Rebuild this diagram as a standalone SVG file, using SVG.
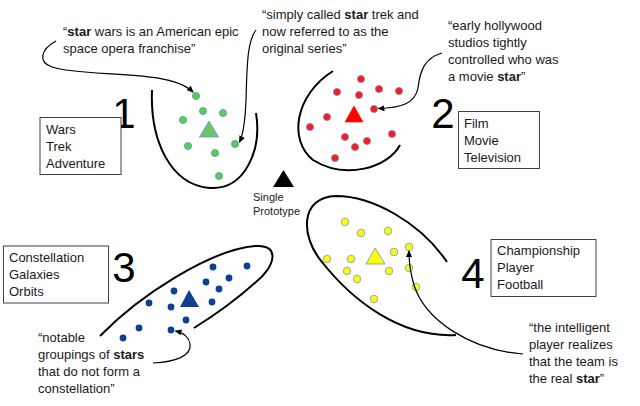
<svg xmlns="http://www.w3.org/2000/svg" width="640" height="406" viewBox="0 0 640 406">
<defs>
<style>
text{font-family:"Liberation Sans",Arial,sans-serif;fill:#1a1a1a}
.t{font-size:13px}
.num{font-size:42px;text-anchor:middle;fill:#000}
.sm{font-size:11px}
.box{fill:#fff;stroke:#404040;stroke-width:1}
.curve{fill:none;stroke:#000;stroke-width:2}
.conn{fill:none;stroke:#000;stroke-width:1.2}
.g{fill:#52d052;stroke:#6f8fc4;stroke-width:0.8}
.r{fill:#ff1a1a;stroke:#6f8fc4;stroke-width:0.8}
.b{fill:#0e3f97}
.y{fill:#ffff00;stroke:#7f9fcf;stroke-width:0.9}
b,.bold{font-weight:bold}
</style>
<marker id="ah" markerWidth="7" markerHeight="6" refX="6" refY="3" orient="auto" markerUnits="userSpaceOnUse">
<path d="M0,0 L7,3 L0,6 z" fill="#000"/>
</marker>
</defs>
<rect width="640" height="406" fill="#fff"/>

<g id="cluster1">
<path class="curve" d="M152,90 C150,140 170,185 210,188 C245,190 262,150 256,113"/>
<circle class="g" cx="196" cy="96" r="3.6"/>
<circle class="g" cx="203" cy="111" r="3.6"/>
<circle class="g" cx="223" cy="113" r="3.6"/>
<circle class="g" cx="183" cy="120" r="3.6"/>
<circle class="g" cx="188" cy="146" r="3.6"/>
<circle class="g" cx="215" cy="153" r="3.6"/>
<circle class="g" cx="235" cy="144" r="3.6"/>
<circle class="g" cx="219" cy="176" r="3.6"/>
<polygon points="209,121 199.5,137 218.5,137" fill="#6dc46d" stroke="#6f8fc4" stroke-width="0.8"/>
</g>

<g id="cluster2">
<path class="curve" d="M333,71 C295,95 288,140 313,160 C345,180 388,168 400,145"/>
<circle class="r" cx="361" cy="79" r="3.6"/>
<circle class="r" cx="337" cy="92" r="3.6"/>
<circle class="r" cx="379" cy="89" r="3.6"/>
<circle class="r" cx="399" cy="91" r="3.6"/>
<circle class="r" cx="359" cy="95" r="3.6"/>
<circle class="r" cx="374" cy="109" r="3.6"/>
<circle class="r" cx="327" cy="117" r="3.6"/>
<circle class="r" cx="310" cy="127" r="3.6"/>
<circle class="r" cx="345" cy="137" r="3.6"/>
<circle class="r" cx="367" cy="141" r="3.6"/>
<circle class="r" cx="392" cy="134" r="3.6"/>
<circle class="r" cx="355" cy="147" r="3.6"/>
<circle class="r" cx="335" cy="158" r="3.6"/>
<polygon points="354,106 345,122 363,122" fill="#ff0000" stroke="#ff0000" stroke-width="0.6"/>
</g>

<g id="cluster3">
<path class="curve" d="M100,336 C140,295 210,250 255,246 C282,244 274,268 256,282 C236,300 215,315 194,328"/>
<circle class="b" cx="247" cy="266" r="3.4"/>
<circle class="b" cx="213" cy="267" r="3.4"/>
<circle class="b" cx="229" cy="278" r="3.4"/>
<circle class="b" cx="206" cy="282" r="3.4"/>
<circle class="b" cx="219" cy="289" r="3.4"/>
<circle class="b" cx="174" cy="291" r="3.4"/>
<circle class="b" cx="212" cy="302" r="3.4"/>
<circle class="b" cx="149" cy="303" r="3.4"/>
<circle class="b" cx="171" cy="307" r="3.4"/>
<circle class="b" cx="186" cy="320" r="3.4"/>
<circle class="b" cx="139" cy="328" r="3.4"/>
<circle class="b" cx="171" cy="330" r="3.4"/>
<circle class="b" cx="123" cy="338" r="3.4"/>
<polygon points="189,290 180,307 199,307" fill="#0e3f97"/>
</g>

<g id="cluster4">
<path class="curve" d="M447,262 C420,222 372,196 336,196 C300,197 300,236 322,262 C352,300 400,338 456,335"/>
<circle class="y" cx="345" cy="222" r="3.8"/>
<circle class="y" cx="361" cy="233" r="3.8"/>
<circle class="y" cx="388" cy="231" r="3.8"/>
<circle class="y" cx="409" cy="247" r="3.8"/>
<circle class="y" cx="394" cy="252" r="3.8"/>
<circle class="y" cx="327" cy="259" r="3.8"/>
<circle class="y" cx="351" cy="259" r="3.8"/>
<circle class="y" cx="347" cy="271" r="3.8"/>
<circle class="y" cx="389" cy="271" r="3.8"/>
<circle class="y" cx="409" cy="268" r="3.8"/>
<circle class="y" cx="357" cy="279" r="3.8"/>
<circle class="y" cx="416" cy="287" r="3.8"/>
<circle class="y" cx="374" cy="299" r="3.8"/>
<polygon points="375,248 366,264 385,264" fill="#ffff00" stroke="#7f9fcf" stroke-width="0.9"/>
</g>

<g id="prototype">
<polygon points="283.5,170 273,187 294,187" fill="#000"/>
<text class="sm" x="253" y="201">Single</text>
<text class="sm" x="253" y="215">Prototype</text>
</g>

<g id="label1">
<text class="num" x="124" y="128">1</text>
<rect class="box" x="40" y="117.5" width="81" height="57"/>
<text class="t" x="46" y="134">Wars</text>
<text class="t" x="46" y="151">Trek</text>
<text class="t" x="46" y="168">Adventure</text>
</g>

<g id="label2">
<text class="num" x="443" y="128">2</text>
<rect class="box" x="458.5" y="111.5" width="81" height="57"/>
<text class="t" x="464" y="128">Film</text>
<text class="t" x="464" y="145">Movie</text>
<text class="t" x="464" y="162">Television</text>
</g>

<g id="label3">
<text class="num" x="124" y="282">3</text>
<rect class="box" x="3.5" y="246" width="105" height="57"/>
<text class="t" x="9" y="262">Constellation</text>
<text class="t" x="9" y="279">Galaxies</text>
<text class="t" x="9" y="296">Orbits</text>
</g>

<g id="label4">
<text class="num" x="473" y="288">4</text>
<rect class="box" x="491" y="239.5" width="105" height="57"/>
<text class="t" x="497" y="255">Championship</text>
<text class="t" x="497" y="272">Player</text>
<text class="t" x="497" y="289">Football</text>
</g>

<g id="quote1">
<text class="t" x="63" y="36">“<tspan class="bold">star</tspan> wars is an American epic</text>
<text class="t" x="63" y="53">space opera franchise”</text>
</g>

<g id="quote2">
<text class="t" x="262" y="19">“simply called <tspan class="bold">star</tspan> trek and</text>
<text class="t" x="262" y="36">now referred to as the</text>
<text class="t" x="262" y="53">original series”</text>
</g>

<g id="quote3">
<text class="t" x="448" y="30">“early hollywood</text>
<text class="t" x="448" y="47">studios tightly</text>
<text class="t" x="448" y="64">controlled who was</text>
<text class="t" x="448" y="81">a movie <tspan class="bold">star</tspan>”</text>
</g>

<g id="quote4">
<text class="t" x="38" y="342">“notable</text>
<text class="t" x="38" y="359">groupings of <tspan class="bold">stars</tspan></text>
<text class="t" x="38" y="376">that do not form a</text>
<text class="t" x="38" y="393">constellation”</text>
</g>

<g id="quote5">
<text class="t" x="529" y="332">“the intelligent</text>
<text class="t" x="529" y="349">player realizes</text>
<text class="t" x="529" y="366">that the team is</text>
<text class="t" x="529" y="383">the real <tspan class="bold">star</tspan>”</text>
</g>

<g id="connectors">
<path class="conn" marker-end="url(#ah)" d="M56,41 C40,50 38,62 52,67 C85,78 168,68 193,92"/>
<path class="conn" marker-end="url(#ah)" d="M256,30 C248,40 247,60 246,100 C245,125 243,135 239.5,142"/>
<path class="conn" marker-end="url(#ah)" d="M442,53 C425,58 420,70 418,88 C415,104 400,108 378.5,108.5"/>
<path class="conn" marker-end="url(#ah)" d="M153,363 C175,362 192,356 190,344 C189,337 184,333 175.5,331"/>
<path class="conn" marker-end="url(#ah)" d="M523,354 C470,350 425,320 414,285 C410,272 409,262 409,251"/>
</g>
</svg>
